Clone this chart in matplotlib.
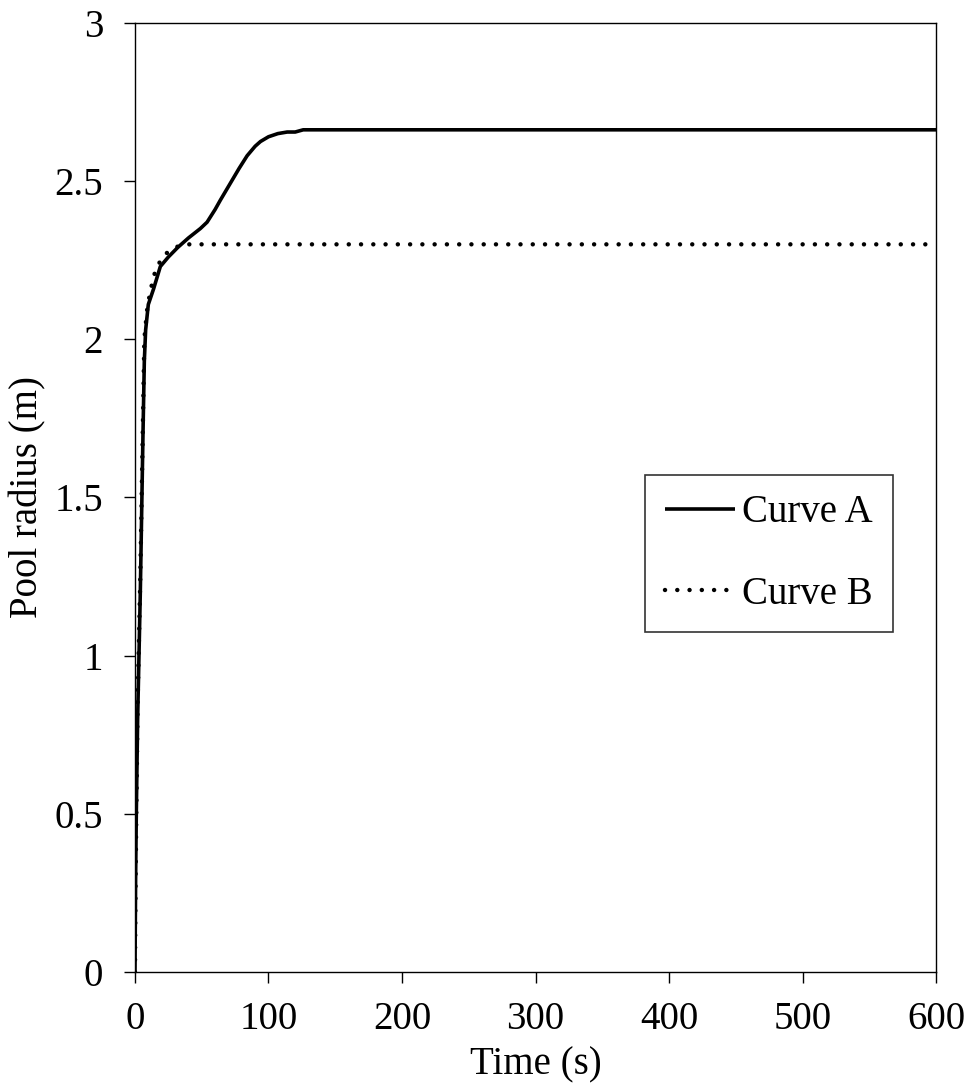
import numpy as np
import matplotlib
matplotlib.use('Agg')
import matplotlib.pyplot as plt

# Curve A (solid)
time_a = [0, 0.5, 1, 2, 3, 4, 5, 6, 7, 8, 10, 14, 19, 25, 32, 40, 49, 54,
          60, 64, 71, 78, 84, 90, 94, 100, 107, 114, 120, 126, 600]
radius_a = [0, 0.3, 0.5, 0.8, 1.0, 1.2, 1.45, 1.7, 1.93, 2.03, 2.11, 2.16,
            2.23, 2.26, 2.29, 2.32, 2.35, 2.37, 2.41, 2.44, 2.49, 2.54, 2.58,
            2.61, 2.625, 2.64, 2.65, 2.655, 2.655, 2.662, 2.662]

# Curve B (dotted)
time_b = [0, 0.5, 1, 2, 3, 4, 5, 6, 7, 9, 11, 14, 18, 23, 28, 33, 38, 600]
radius_b = [0, 0.3, 0.5, 0.85, 1.05, 1.25, 1.5, 1.75, 2.0, 2.09, 2.14, 2.2,
            2.24, 2.27, 2.285, 2.295, 2.30, 2.30]

x_ticks = [0, 100, 200, 300, 400, 500, 600]
y_ticks = [0, 0.5, 1, 1.5, 2, 2.5, 3]
y_labels = ['0', '0.5', '1', '1.5', '2', '2.5', '3']


def main():
    plt.rcParams['font.family'] = ['Liberation Serif', 'DejaVu Serif']
    fs = 28

    fig = plt.figure(figsize=(9.71, 10.89), dpi=100)
    ax = fig.add_axes([0.139, 0.1074, 0.825, 0.8716])

    ax.plot(time_a, radius_a, color='black', lw=2.6, label='Curve A',
            solid_capstyle='butt')
    ax.plot(time_b, radius_b, color='black', lw=3.2, label='Curve B',
            linestyle=(0, (0.01, 2.75)), dash_capstyle='round')

    ax.set_xlim(0, 600)
    ax.set_ylim(0, 3)
    ax.set_xticks(x_ticks)
    ax.set_yticks(y_ticks)
    ax.set_yticklabels(y_labels)
    ax.tick_params(direction='out', length=8, width=1.0, labelsize=fs,
                   colors='black')
    ax.tick_params(axis='x', pad=13)
    ax.tick_params(axis='y', pad=15)
    for sp in ax.spines.values():
        sp.set_linewidth(1.0)
        sp.set_color('black')

    ax.set_xlabel('Time (s)', fontsize=fs, labelpad=6)
    ax.set_ylabel('Pool radius (m)', fontsize=fs, labelpad=6)

    leg = ax.legend(loc='upper left', bbox_to_anchor=(0.637, 0.524),
                    fontsize=fs, frameon=True, fancybox=False,
                    handlelength=1.8, handletextpad=0.2,
                    labelspacing=1.15, borderpad=0.5, borderaxespad=0)
    leg.get_frame().set_edgecolor('black')
    leg.get_frame().set_linewidth(1.2)

    fig.savefig('out.png', dpi=100)


if __name__ == '__main__':
    main()
